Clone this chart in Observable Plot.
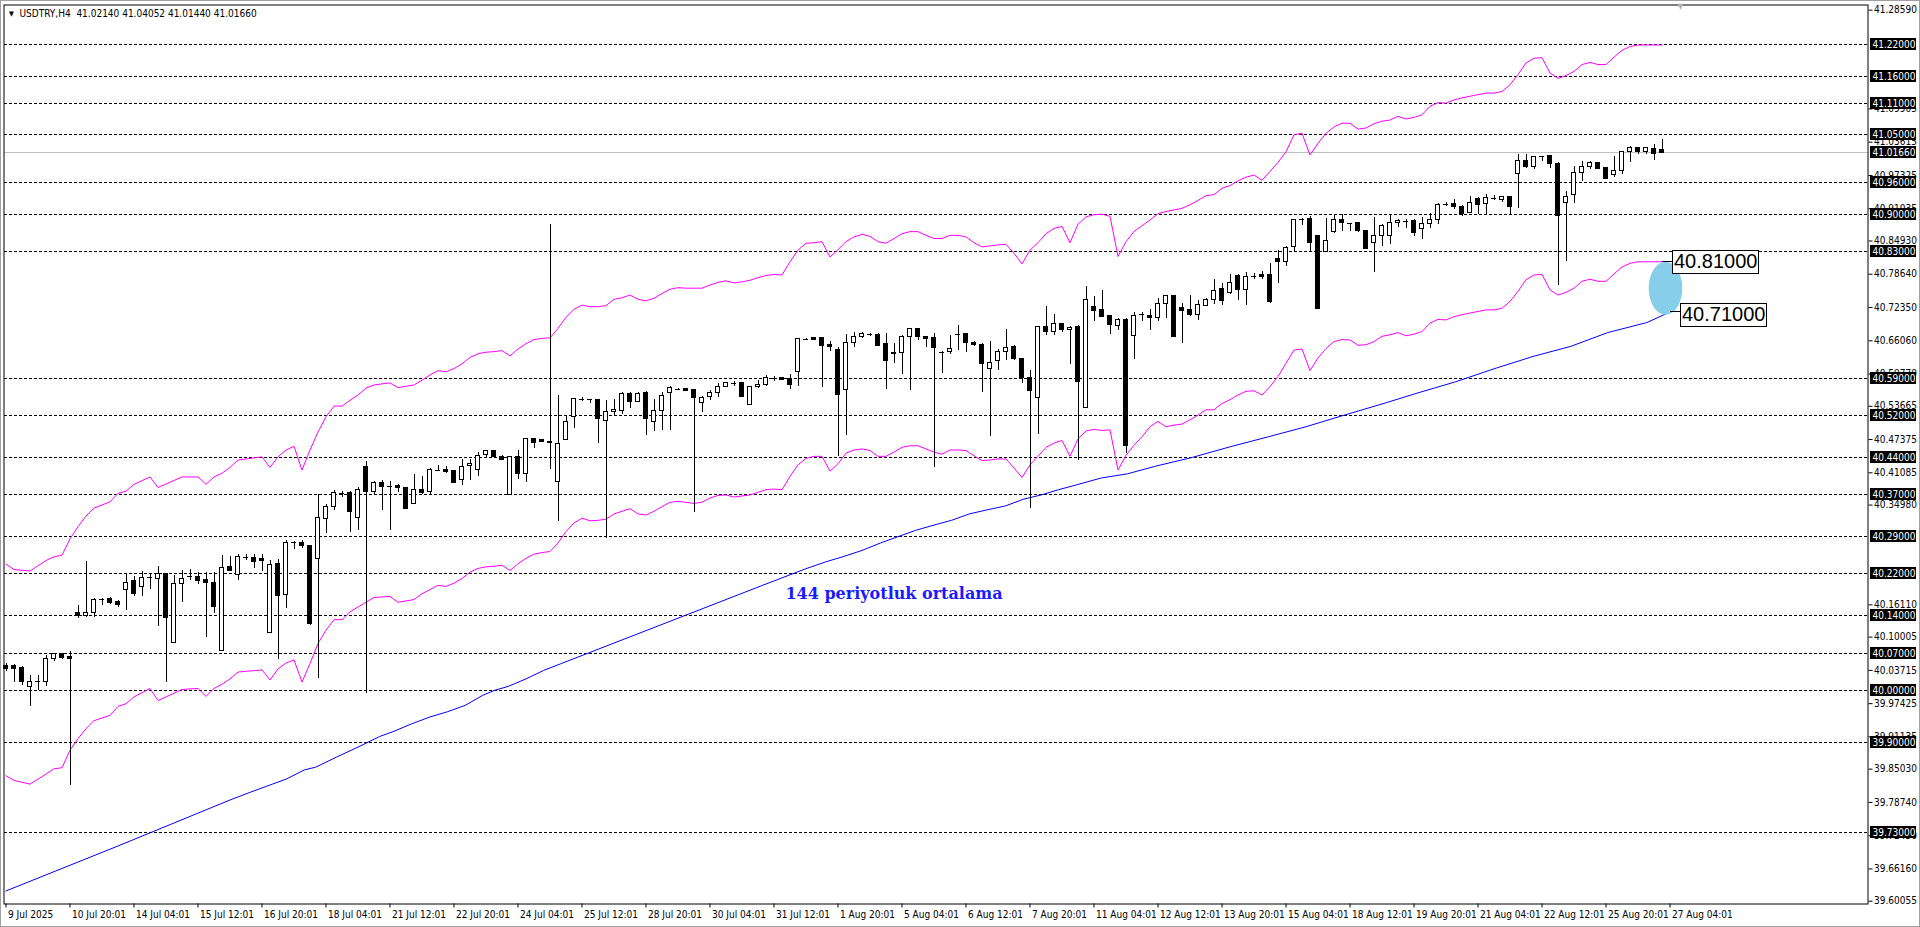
<!DOCTYPE html>
<html>
<head>
<meta charset="utf-8">
<script src="https://cdn.jsdelivr.net/npm/d3@7"></script>
<script src="https://cdn.jsdelivr.net/npm/@observablehq/plot@0.6"></script>
<style>
html, body { margin: 0; padding: 0; background: #ffffff; overflow: hidden; }
#chart { width: 1920px; height: 927px; position: relative; }
</style>
</head>
<body>
<div id="chart"></div>
<script>
// ---------------- DATA ----------------
const symbolTitle = "USDTRY,H4  41.02140 41.04052 41.01440 41.01660";

const opens = [
 40.045,40.045,40.042,40.005,40.016,40.016,40.059,40.069,40.062,40.145,
 40.140,40.145,40.170,40.172,40.167,40.189,40.206,40.195,40.212,40.210,
 40.220,40.088,40.200,40.213,40.214,40.208,40.203,40.074,40.233,40.217,
 40.252,40.250,40.247,40.108,40.239,40.180,40.279,40.279,40.273,40.247,
 40.324,40.346,40.372,40.373,40.326,40.421,40.375,40.392,40.384,40.386,
 40.383,40.351,40.378,40.375,40.416,40.417,40.414,40.397,40.423,40.417,
 40.445,40.452,40.441,40.368,40.441,40.409,40.474,40.473,40.470,40.394,
 40.473,40.517,40.550,40.549,40.549,40.509,40.525,40.527,40.560,40.544,
 40.561,40.506,40.527,40.561,40.569,40.569,40.567,40.542,40.554,40.561,
 40.574,40.579,40.580,40.540,40.573,40.576,40.590,40.590,40.588,40.602,
 40.663,40.665,40.665,40.652,40.644,40.567,40.656,40.668,40.671,40.671,
 40.654,40.637,40.637,40.668,40.683,40.667,40.665,40.640,40.639,40.672,
 40.673,40.657,40.652,40.608,40.623,40.640,40.649,40.626,40.590,40.552,
 40.686,40.678,40.692,40.681,40.686,40.533,40.725,40.719,40.708,40.689,
 40.700,40.669,40.710,40.708,40.703,40.730,40.745,40.723,40.719,40.710,
 40.727,40.738,40.758,40.751,40.783,40.756,40.782,40.785,40.785,40.815,
 40.810,40.837,40.890,40.890,40.859,40.828,40.867,40.889,40.883,40.883,
 40.869,40.846,40.858,40.858,40.883,40.887,40.887,40.872,40.881,40.889,
 40.918,40.919,40.914,40.903,40.929,40.919,40.930,40.927,40.932,40.976,
 41.001,40.989,41.009,41.010,40.995,40.921,40.937,40.977,40.989,40.996,
 40.987,40.974,40.981,41.017,41.025,41.018,41.023,41.0214
];
const highs = [
 40.050,40.048,40.045,40.028,40.028,40.065,40.070,40.070,40.072,40.160,
 40.243,40.173,40.173,40.175,40.170,40.220,40.215,40.224,40.221,40.233,
 40.220,40.217,40.226,40.228,40.223,40.223,40.222,40.255,40.252,40.257,
 40.257,40.256,40.257,40.245,40.247,40.282,40.281,40.282,40.274,40.370,
 40.350,40.378,40.376,40.376,40.383,40.433,40.395,40.396,40.395,40.388,
 40.383,40.408,40.404,40.419,40.425,40.423,40.414,40.436,40.436,40.450,
 40.452,40.452,40.444,40.441,40.453,40.476,40.476,40.474,40.880,40.557,
 40.520,40.552,40.553,40.550,40.549,40.547,40.549,40.562,40.562,40.562,
 40.564,40.549,40.562,40.574,40.571,40.571,40.567,40.555,40.567,40.580,
 40.582,40.583,40.582,40.573,40.586,40.594,40.593,40.592,40.596,40.665,
 40.665,40.666,40.666,40.659,40.648,40.673,40.676,40.676,40.675,40.675,
 40.675,40.656,40.670,40.684,40.683,40.667,40.675,40.640,40.671,40.690,
 40.675,40.660,40.656,40.659,40.644,40.681,40.651,40.627,40.605,40.687,
 40.725,40.711,40.693,40.688,40.690,40.764,40.745,40.755,40.708,40.702,
 40.702,40.714,40.714,40.719,40.741,40.747,40.747,40.731,40.746,40.736,
 40.740,40.777,40.768,40.785,40.785,40.790,40.788,40.791,40.807,40.832,
 40.839,40.890,40.892,40.895,40.859,40.892,40.899,40.899,40.883,40.884,
 40.869,40.894,40.880,40.899,40.890,40.890,40.889,40.894,40.902,40.921,
 40.922,40.927,40.916,40.933,40.932,40.937,40.935,40.933,40.933,41.012,
 41.012,41.009,41.009,41.010,40.998,40.943,40.990,41.000,41.000,40.998,
 40.987,41.009,41.017,41.028,41.025,41.026,41.031,41.04052
];
const lows = [
 40.035,40.015,40.009,39.968,40.000,40.007,40.053,40.058,39.819,40.135,
 40.137,40.138,40.159,40.162,40.157,40.151,40.177,40.177,40.190,40.120,
 40.015,40.088,40.166,40.207,40.200,40.100,40.144,40.074,40.225,40.207,
 40.245,40.230,40.225,40.108,40.057,40.155,40.266,40.268,40.122,40.021,
 40.296,40.340,40.364,40.297,40.301,39.993,40.368,40.340,40.302,40.373,
 40.343,40.350,40.369,40.367,40.415,40.410,40.391,40.386,40.397,40.403,
 40.440,40.439,40.435,40.367,40.399,40.393,40.457,40.468,40.417,40.318,
 40.473,40.495,40.545,40.542,40.467,40.287,40.517,40.522,40.532,40.544,
 40.481,40.489,40.491,40.491,40.567,40.564,40.335,40.525,40.547,40.554,
 40.573,40.574,40.555,40.540,40.571,40.574,40.583,40.585,40.569,40.575,
 40.661,40.661,40.573,40.640,40.442,40.482,40.648,40.665,40.669,40.649,
 40.569,40.617,40.597,40.566,40.661,40.648,40.421,40.599,40.635,40.643,
 40.638,40.649,40.562,40.479,40.604,40.623,40.624,40.580,40.343,40.484,
 40.671,40.670,40.676,40.615,40.434,40.533,40.697,40.706,40.672,40.680,
 40.448,40.626,40.697,40.680,40.697,40.703,40.667,40.656,40.706,40.699,
 40.725,40.730,40.727,40.749,40.737,40.728,40.777,40.776,40.732,40.768,
 40.801,40.827,40.878,40.829,40.721,40.828,40.863,40.867,40.867,40.866,
 40.834,40.790,40.839,40.842,40.875,40.873,40.858,40.853,40.873,40.880,
 40.914,40.909,40.895,40.902,40.900,40.900,40.926,40.922,40.900,40.911,
 40.986,40.984,40.999,40.986,40.766,40.810,40.921,40.962,40.985,40.984,
 40.966,40.970,40.976,40.998,41.013,41.013,41.001,41.0144
];
const closes = [
 40.040,40.040,40.015,40.015,40.017,40.059,40.069,40.060,40.058,40.140,
 40.145,40.170,40.171,40.165,40.161,40.203,40.182,40.212,40.212,40.220,
 40.137,40.200,40.210,40.214,40.206,40.202,40.157,40.231,40.226,40.252,
 40.251,40.242,40.244,40.237,40.178,40.279,40.279,40.273,40.124,40.326,
 40.346,40.373,40.372,40.337,40.379,40.375,40.392,40.384,40.384,40.382,
 40.343,40.378,40.373,40.416,40.416,40.413,40.391,40.422,40.427,40.443,
 40.452,40.441,40.436,40.441,40.409,40.474,40.468,40.470,40.467,40.466,
 40.506,40.550,40.550,40.549,40.512,40.525,40.530,40.560,40.544,40.560,
 40.513,40.527,40.556,40.571,40.569,40.566,40.552,40.553,40.561,40.574,
 40.580,40.579,40.555,40.573,40.577,40.590,40.590,40.587,40.576,40.663,
 40.663,40.662,40.651,40.648,40.558,40.656,40.668,40.673,40.672,40.651,
 40.623,40.635,40.668,40.683,40.667,40.663,40.646,40.639,40.645,40.673,
 40.656,40.653,40.617,40.619,40.640,40.646,40.626,40.590,40.566,40.686,
 40.678,40.692,40.680,40.685,40.583,40.738,40.717,40.706,40.691,40.700,
 40.462,40.708,40.710,40.703,40.730,40.745,40.667,40.716,40.710,40.728,
 40.738,40.754,40.735,40.769,40.756,40.781,40.783,40.782,40.734,40.810,
 40.836,40.889,40.890,40.846,40.721,40.850,40.889,40.883,40.883,40.868,
 40.834,40.858,40.878,40.883,40.888,40.887,40.864,40.881,40.889,40.918,
 40.919,40.914,40.900,40.921,40.917,40.930,40.930,40.932,40.914,41.000,
 40.989,41.008,41.009,40.994,40.897,40.933,40.977,40.989,40.996,40.986,
 40.966,40.981,41.017,41.025,41.018,41.025,41.013,41.0166
];

// Envelope band (magenta), read at these bars
const bandBars = [
 0,1,3,5,6,7,8,9,10,11,13,14,15,16,18,19,22,24,25,26,27,28,29,32,33,34,35,36,37,38,
 39,40,41,42,43,44,45,46,48,49,51,52,53,54,55,56,57,58,59,60,61,62,63,64,65,66,67,68,69,70,
 71,72,73,74,75,76,77,78,79,80,81,82,83,84,85,86,87,88,89,90,91,92,93,94,95,96,97,98,99,100,
 101,102,103,104,105,106,107,108,109,110,111,112,113,114,115,116,117,118,119,120,121,122,123,124,125,126,127,128,129,130,
 131,132,133,134,135,136,137,138,139,140,141,142,143,144,145,146,147,148,149,150,151,152,153,154,155,156,157,158,159,160,
 161,162,163,164,165,166,167,168,169,170,171,172,173,174,175,176,177,178,179,180,181,182,183,184,185,186,187,188,189,190,
 191,192,193,194,195,196,197,198,199,200,201,202,203,204,205,206,207
];
const bandUpper = [
 40.238,40.228,40.225,40.245,40.252,40.255,40.286,40.309,40.329,40.344,40.356,40.372,40.376,40.389,40.403,40.383,40.403,40.403,40.389,40.403,40.410,40.421,40.435,40.441,40.421,40.441,40.454,40.461,40.416,40.454,
 40.488,40.517,40.537,40.537,40.548,40.558,40.571,40.577,40.581,40.572,40.577,40.586,40.596,40.604,40.602,40.608,40.617,40.629,40.636,40.639,40.640,40.642,40.632,40.645,40.655,40.663,40.665,40.666,40.684,40.705,
 40.720,40.728,40.725,40.725,40.727,40.739,40.742,40.747,40.739,40.736,40.741,40.750,40.758,40.761,40.760,40.760,40.760,40.766,40.771,40.774,40.770,40.772,40.775,40.780,40.784,40.786,40.785,40.810,40.832,40.845,
 40.846,40.848,40.819,40.833,40.848,40.857,40.862,40.858,40.848,40.845,40.854,40.863,40.867,40.867,40.860,40.854,40.854,40.860,40.860,40.857,40.846,40.838,40.840,40.842,40.843,40.826,40.806,40.832,40.846,40.863,
 40.873,40.877,40.846,40.881,40.895,40.899,40.900,40.896,40.820,40.848,40.867,40.878,40.889,40.901,40.905,40.908,40.911,40.918,40.926,40.935,40.937,40.949,40.954,40.963,40.970,40.974,40.964,40.981,40.998,41.018,
 41.050,41.053,41.012,41.034,41.053,41.065,41.072,41.072,41.061,41.063,41.071,41.076,41.078,41.085,41.080,41.083,41.088,41.104,41.111,41.110,41.116,41.120,41.123,41.126,41.129,41.129,41.132,41.145,41.164,41.186,
 41.195,41.196,41.167,41.157,41.162,41.170,41.183,41.187,41.183,41.183,41.197,41.210,41.217,41.220,41.220,41.220,41.220
];
const bandLower = [
 39.838,39.829,39.822,39.841,39.851,39.853,39.886,39.908,39.927,39.942,39.952,39.969,39.974,39.987,40.003,39.980,40.001,40.003,39.988,40.003,40.011,40.021,40.034,40.038,40.019,40.040,40.051,40.057,40.015,40.050,
 40.088,40.113,40.133,40.133,40.148,40.157,40.166,40.175,40.177,40.166,40.171,40.182,40.190,40.198,40.196,40.202,40.211,40.223,40.230,40.233,40.234,40.236,40.226,40.239,40.249,40.257,40.260,40.262,40.278,40.300,
 40.316,40.325,40.320,40.321,40.323,40.333,40.338,40.343,40.333,40.331,40.338,40.347,40.355,40.357,40.355,40.353,40.355,40.363,40.368,40.369,40.365,40.367,40.369,40.374,40.379,40.380,40.379,40.404,40.426,40.438,
 40.442,40.442,40.414,40.428,40.448,40.454,40.456,40.453,40.442,40.442,40.450,40.459,40.462,40.462,40.456,40.450,40.446,40.454,40.454,40.453,40.443,40.434,40.435,40.437,40.437,40.420,40.402,40.426,40.442,40.459,
 40.467,40.472,40.442,40.475,40.490,40.493,40.491,40.492,40.416,40.444,40.463,40.479,40.498,40.508,40.498,40.501,40.503,40.511,40.520,40.530,40.530,40.542,40.549,40.558,40.565,40.566,40.558,40.574,40.593,40.618,
 40.643,40.645,40.604,40.628,40.646,40.659,40.663,40.662,40.652,40.653,40.659,40.669,40.672,40.676,40.670,40.673,40.678,40.694,40.701,40.700,40.706,40.710,40.713,40.716,40.719,40.719,40.722,40.735,40.754,40.776,
 40.785,40.786,40.757,40.747,40.752,40.760,40.773,40.777,40.773,40.773,40.787,40.800,40.807,40.810,40.810,40.810,40.810
];

// 144-period moving average (blue), read at these bar positions
const maBars = [0,14,28,30.6,33.3,35.1,37.3,38.7,41.3,44,46.7,48.5,50.7,53,55.2,57.4,59.6,61,62.8,65,67.2,69.4,
 94.4,99.9,102.6,104.8,107,109.3,111.5,113.7,116,118.2,120.4,122.7,124.9,127.2,129.4,131.6,133.8,136.9,
 140.2,143.6,148.3,153,157.8,162.5,167.3,172,176.5,181.2,186.3,190.9,195.6,200.2,205.1,208];
const maValues = [39.620,39.705,39.792,39.807,39.822,39.832,39.849,39.854,39.873,39.892,39.912,39.922,39.936,39.949,39.959,39.971,39.990,39.999,40.007,40.021,40.037,40.050,
 40.197,40.229,40.243,40.253,40.264,40.278,40.290,40.302,40.312,40.321,40.333,40.341,40.348,40.361,40.369,40.379,40.388,40.401,
 40.409,40.423,40.440,40.460,40.479,40.498,40.520,40.541,40.562,40.583,40.609,40.631,40.650,40.676,40.695,40.715];

// Horizontal dashed levels and current price
const levels = [41.22,41.16,41.11,41.05,40.96,40.90,40.83,40.59,40.52,40.44,40.37,40.29,40.22,40.14,40.07,40.00,39.90,39.73];
const lastPrice = 41.0166;

// Price axis ticks (those not fully hidden behind the level boxes)
const priceTicks = [41.28590,41.09905,41.03615,40.97325,40.91035,40.84930,40.78640,40.72350,
 40.66060,40.59770,40.53665,40.47375,40.41085,40.34980,40.16110,40.10005,40.03715,39.97425,
 39.91135,39.85030,39.78740,39.72450,39.66160,39.60055];

// Time axis ticks (bar index) and labels
const timeTickBars = [0,8,16,24,32,40,48,56,64,72,80,88,96,104,112,120,128,136,144,152,160,168,176,184,192,200,208];
const timeTickLabels = ["9 Jul 2025","10 Jul 20:01","14 Jul 04:01","15 Jul 12:01","16 Jul 20:01","18 Jul 04:01",
 "21 Jul 12:01","22 Jul 20:01","24 Jul 04:01","25 Jul 12:01","28 Jul 20:01","30 Jul 04:01","31 Jul 12:01",
 "1 Aug 20:01","5 Aug 04:01","6 Aug 12:01","7 Aug 20:01","11 Aug 04:01","12 Aug 12:01","13 Aug 20:01",
 "15 Aug 04:01","18 Aug 12:01","19 Aug 20:01","21 Aug 04:01","22 Aug 12:01","25 Aug 20:01","27 Aug 04:01"];

// Annotations
const maLabelText = "144 periyotluk ortalama";
const calloutValues = [40.81, 40.71];

// ---------------- LAYOUT / STYLE ----------------
const axisFont = '"DejaVu Sans Condensed", "DejaVu Sans", sans-serif';
const W = 1920, H = 927;
const mLeft = 3.5, mTop = 4.5, mRight = 52.5, mBottom = 23.5;

const candles = opens.map((o, i) => ({i, open: o, high: highs[i], low: lows[i], close: closes[i]}));
const isDoji = d => Math.abs(d.close - d.open) < 0.0015;
const bulls = candles.filter(d => !isDoji(d) && d.close > d.open);
const bears = candles.filter(d => !isDoji(d) && d.close < d.open);
const dojis = candles.filter(isDoji);
const band = bandBars.map((b, k) => ({bar: b, upper: bandUpper[k], lower: bandLower[k]}));
const ma = maBars.map((b, k) => ({bar: b, value: maValues[k]}));
const ticks = timeTickBars.map((b, k) => ({bar: b, label: timeTickLabels[k]}));
const maEnd = ma[ma.length - 1];
const bandEnd = band[band.length - 1];

// annotation anchors (data space)
const maLabelAnchor = {bar: 111, price: 40.182};
const ellipseAnchor = {bar: 207.5, price: 40.759, rxBars: 2.1, ryPrice: 0.05};
const calloutAnchors = [
  {value: calloutValues[0], fromBar: bandEnd.bar, fromPrice: bandEnd.lower, boxBar: 208.3},
  {value: calloutValues[1], fromBar: maEnd.bar, fromPrice: maEnd.value, boxBar: 209.3}
];

const measureCtx = document.createElement("canvas").getContext("2d");
function textWidth(str, font) { measureCtx.font = font; return measureCtx.measureText(str).width; }

// Right-hand price boxes (black with white text)
function priceBoxes(index, scales, values, dims) {
  const g = d3.create("svg:g").attr("font-family", axisFont).attr("font-size", 10).attr("text-anchor", "start");
  const x0 = dims.width - dims.marginRight;
  for (const v of [...levels, lastPrice]) {
    const y = scales.y(v);
    g.append("rect").attr("x", x0 + 2).attr("y", Math.round(y) - 6).attr("width", 46).attr("height", 12)
      .attr("fill", "#000").attr("shape-rendering", "crispEdges");
    g.append("text").attr("x", x0 + 5).attr("y", Math.round(y)).attr("dy", "0.36em").attr("fill", "#fff")
      .attr("text-anchor", "start").text(v.toFixed(5));
  }
  return g.node();
}

// Light-blue ellipse
function ellipseMark(index, scales) {
  const cx = scales.x(ellipseAnchor.bar), cy = scales.y(ellipseAnchor.price);
  const rx = Math.abs(scales.x(ellipseAnchor.bar + ellipseAnchor.rxBars) - cx);
  const ry = Math.abs(scales.y(ellipseAnchor.price + ellipseAnchor.ryPrice) - cy);
  return d3.create("svg:ellipse").attr("cx", cx).attr("cy", cy).attr("rx", rx).attr("ry", ry)
    .attr("fill", "#87ceeb").node();
}

// Boxed price callouts with short connectors
function callouts(index, scales) {
  const g = d3.create("svg:g").attr("text-anchor", "start");
  const fam = '"Liberation Sans", Arial, sans-serif';
  for (const c of calloutAnchors) {
    const x0 = Math.round(scales.x(c.boxBar)) + 0.5;
    const yc = scales.y(c.value);
    const yf = Math.round(scales.y(c.fromPrice)) + 0.5;
    const xf = scales.x(c.fromBar);
    const label = c.value.toFixed(5);
    const tw = textWidth(label, "20px " + fam);
    g.append("line").attr("x1", xf).attr("x2", x0).attr("y1", yf).attr("y2", yf)
      .attr("stroke", "#000").attr("shape-rendering", "crispEdges");
    g.append("rect").attr("x", x0).attr("y", Math.round(yc - 11.5) + 0.5).attr("width", Math.round(tw + 3)).attr("height", 23)
      .attr("fill", "#fff").attr("stroke", "#000");
    g.append("text").attr("x", x0 + 1.5).attr("y", yc).attr("dy", "0.36em").attr("text-anchor", "start")
      .attr("font-family", fam).attr("font-size", 20).attr("fill", "#000").text(label);
  }
  return g.node();
}

// Outer window border
function windowBorder(index, scales, values, dims) {
  const g = d3.create("svg:g");
  g.append("rect").attr("x", 0.5).attr("y", 0.5).attr("width", dims.width - 1).attr("height", dims.height - 1)
    .attr("fill", "none").attr("stroke", "#a0a0a0");
  return g.node();
}

const chart = Plot.plot({
  width: W, height: H,
  marginLeft: mLeft, marginTop: mTop, marginRight: mRight, marginBottom: mBottom,
  style: {fontFamily: axisFont, fontSize: "10px", background: "#ffffff", color: "#000", overflow: "visible"},
  x: {type: "linear", domain: [0, 208], range: [5.5, 1669.5], axis: "bottom", ticks: timeTickBars,
      tickFormat: () => "", tickSize: 4, label: null},
  y: {type: "linear", domain: [39.6, 41.3], range: [901.0, 2.2], axis: "right", ticks: priceTicks,
      tickFormat: d => d.toFixed(5), tickSize: 4, tickPadding: 2, label: null},
  marks: [
    Plot.ruleY(levels, {stroke: "#000", strokeWidth: 1, strokeDasharray: "3,2", shapeRendering: "crispEdges"}),
    Plot.ruleY([lastPrice], {stroke: "#c0c0c0", strokeWidth: 1, shapeRendering: "crispEdges"}),
    Plot.line(band, {x: "bar", y: "upper", stroke: "#ff00ff", strokeWidth: 1}),
    Plot.line(band, {x: "bar", y: "lower", stroke: "#ff00ff", strokeWidth: 1}),
    Plot.line(ma, {x: "bar", y: "value", stroke: "#0000ff", strokeWidth: 1}),
    Plot.ruleX(candles, {x: "i", y1: "low", y2: "high", stroke: "#000", strokeWidth: 1, shapeRendering: "crispEdges"}),
    Plot.rect(bulls, {x1: d => d.i - 0.25, x2: d => d.i + 0.25, y1: "open", y2: "close", fill: "#ffffff", stroke: "#000", strokeWidth: 1, shapeRendering: "crispEdges"}),
    Plot.rect(bears, {x1: d => d.i - 0.25, x2: d => d.i + 0.25, y1: "open", y2: "close", fill: "#000000", stroke: "#000", strokeWidth: 1, shapeRendering: "crispEdges"}),
    Plot.ruleY(dojis, {y: "close", x1: d => d.i - 0.3, x2: d => d.i + 0.3, stroke: "#000", strokeWidth: 1, shapeRendering: "crispEdges"}),
    Plot.text([maLabelText], {x: maLabelAnchor.bar, y: maLabelAnchor.price, text: d => d, fill: "#1a1aff",
      fontFamily: '"DejaVu Serif", serif', fontWeight: "bold", fontSize: 16, textAnchor: "middle"}),
    ellipseMark,
    callouts,
    Plot.frame({stroke: "#000", strokeWidth: 1}),
    priceBoxes,
    Plot.text(ticks, {x: "bar", text: "label", frameAnchor: "bottom", lineAnchor: "middle", dy: 11, dx: 2,
      textAnchor: "start", fill: "#000", fontSize: 10}),
    Plot.text([symbolTitle], {frameAnchor: "top-left", lineAnchor: "middle", dx: 15.5, dy: 8.5, text: d => d,
      textAnchor: "start", fill: "#000", fontSize: 10}),
    Plot.text(["\u25BC"], {frameAnchor: "top-left", lineAnchor: "middle", dx: 5, dy: 8.5, text: d => d,
      textAnchor: "start", fill: "#000", fontSize: 7}),
    Plot.text(["\u25BC"], {x: 209.3, frameAnchor: "top", lineAnchor: "middle", dy: 1, text: d => d,
      textAnchor: "middle", fill: "#b0b0b0", fontSize: 8}),
    windowBorder
  ]
});
document.getElementById("chart").appendChild(chart);
</script>
</body>
</html>
